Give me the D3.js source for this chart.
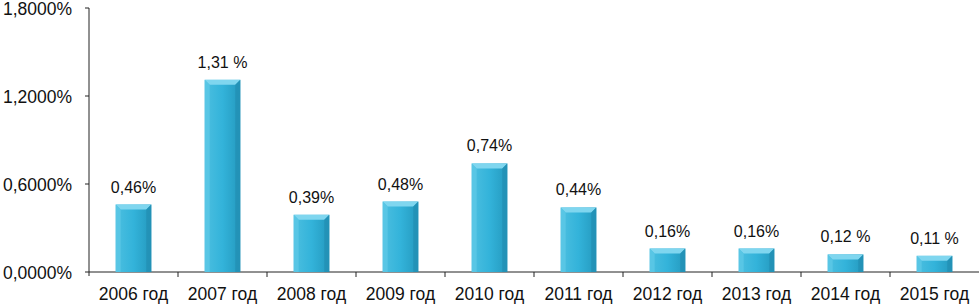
<!DOCTYPE html>
<html><head><meta charset="utf-8">
<script src="https://cdn.jsdelivr.net/npm/d3@7"></script>
<style>body{margin:0;background:#fff}svg{display:block}text{font-family:Arial,"Liberation Sans",sans-serif;fill:#111}</style>
</head><body>
<script>
const categories=["2006 год","2007 год","2008 год","2009 год","2010 год","2011 год","2012 год","2013 год","2014 год","2015 год"];
const values=[0.46,1.31,0.39,0.48,0.74,0.44,0.16,0.16,0.12,0.11];
const valueLabels=["0,46%","1,31 %","0,39%","0,48%","0,74%","0,44%","0,16%","0,16%","0,12 %","0,11 %"];
const yTicks=[0,0.6,1.2,1.8];
const yTickLabels=["0,0000%","0,6000%","1,2000%","1,8000%"];

const W=979,H=304;
const svg=d3.select("body").append("svg").attr("width",W).attr("height",H);
const x=d3.scaleBand().domain(categories).range([89,979]).paddingInner(0.6).paddingOuter(0.3);
const xb=d3.scaleBand().domain(categories).range([89,979]);
const y=d3.scaleLinear().domain([0,1.8]).range([272,8]);

const defs=svg.append("defs");
const g=defs.append("linearGradient").attr("id","bg").attr("x1","0").attr("x2","1");
g.append("stop").attr("offset","0").attr("stop-color","#4cbfe0");
g.append("stop").attr("offset","0.5").attr("stop-color","#33b3da");
g.append("stop").attr("offset","1").attr("stop-color","#2499be");

// axes
svg.append("line").attr("x1",89).attr("x2",89).attr("y1",y(1.8)).attr("y2",y(0)+4).attr("stroke","#222");
svg.append("line").attr("x1",89).attr("x2",979).attr("y1",y(0)).attr("y2",y(0)).attr("stroke","#222");
svg.selectAll(".yt").data(yTicks).enter().append("line").attr("x1",85).attr("x2",89).attr("y1",d=>y(d)).attr("y2",d=>y(d)).attr("stroke","#222");
svg.selectAll(".yl").data(yTicks).enter().append("text").attr("x",72).attr("y",d=>y(d)+6.5).attr("text-anchor","end").attr("font-size",17.5).text((d,i)=>yTickLabels[i]);
svg.selectAll(".xt").data(categories.slice(1)).enter().append("line").attr("x1",d=>xb(d)).attr("x2",d=>xb(d)).attr("y1",y(0)).attr("y2",y(0)+5).attr("stroke","#222");
svg.selectAll(".xl").data(categories).enter().append("text").attr("x",d=>xb(d)+xb.bandwidth()/2).attr("y",300).attr("text-anchor","middle").attr("font-size",17.5).text(d=>d);

// bars
const bars=svg.selectAll(".bar").data(categories).enter().append("g");
bars.each(function(c,i){
  const gg=d3.select(this);
  const x0=x(c),w=x.bandwidth(),yt=y(values[i]),yb=y(0),h=yb-yt;
  const b=Math.min(5,h/3);
  gg.append("rect").attr("x",x0).attr("y",yt).attr("width",w).attr("height",h).attr("fill","url(#bg)");
  gg.append("polygon").attr("points",[[x0,yt],[x0+w,yt],[x0+w-b,yt+b],[x0+b,yt+b]].join(" ")).attr("fill","#7fd6ef");
  gg.append("polygon").attr("points",[[x0+w,yt],[x0+w,yb],[x0+w-b,yb],[x0+w-b,yt+b]].join(" ")).attr("fill","#2390b4").attr("opacity",0.8);
  gg.append("polygon").attr("points",[[x0,yt],[x0+b,yt+b],[x0+b,yb],[x0,yb]].join(" ")).attr("fill","#5cc8e6").attr("opacity",0.8);
  gg.append("text").attr("x",x0+w/2).attr("y",yt-12).attr("text-anchor","middle").attr("font-size",16).text(valueLabels[i]);
});
</script>
</body></html>
